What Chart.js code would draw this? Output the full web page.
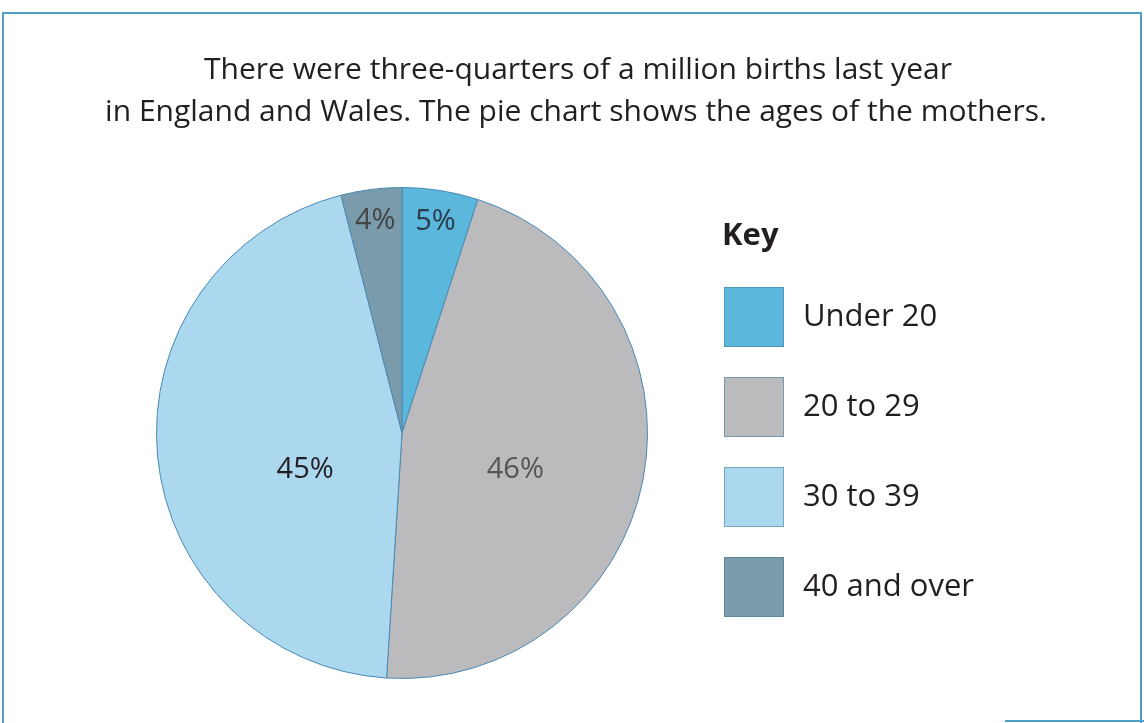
<!DOCTYPE html>
<html>
<head>
<meta charset="utf-8">
<script src="https://cdn.jsdelivr.net/npm/chart.js@4"></script>
<style>
html,body{margin:0;padding:0;background:#fff;}
#wrap{position:relative;width:1144px;height:723px;}
</style>
</head>
<body>
<div id="wrap"><canvas id="c" width="1144" height="723"></canvas></div>
<script>
const categories = ['Under 20', '20 to 29', '30 to 39', '40 and over'];
const percentages = [5, 46, 45, 4];
const sliceLabels = ['5%', '46%', '45%', '4%'];
const sliceColors = ['#5cb7dc', '#bbbbbd', '#acd8ef', '#7a9bab'];
const titleLines = ['There were three-quarters of a million births last year',
                    'in England and Wales. The pie chart shows the ages of the mothers.'];
const keyTitle = 'Key';

const FONT = '"Open Sans", "Noto Sans", sans-serif';

const decor = {
  id: 'decor',
  beforeDraw(chart) {
    const ctx = chart.ctx;
    ctx.save();
    ctx.fillStyle = '#fff';
    ctx.fillRect(0, 0, chart.width, chart.height);
    ctx.strokeStyle = '#4f9fc6';
    ctx.lineWidth = 2;
    ctx.beginPath();
    ctx.moveTo(3, 723); ctx.lineTo(3, 13); ctx.lineTo(1141, 13); ctx.lineTo(1141, 723);
    ctx.stroke();
    ctx.beginPath();
    ctx.moveTo(1005, 721); ctx.lineTo(1144, 721);
    ctx.stroke();
    ctx.restore();
  },
  afterDraw(chart) {
    const ctx = chart.ctx;
    ctx.save();
    // title
    ctx.fillStyle = '#231f20';
    ctx.font = '30px ' + FONT;
    ctx.textAlign = 'center';
    ctx.textBaseline = 'middle';
    ctx.fillText(titleLines[0], 578, 70);
    ctx.fillText(titleLines[1], 576, 112);
    // slice labels
    const meta = chart.getDatasetMeta(0);
    ctx.font = '29px ' + FONT;
    meta.data.forEach((arc, i) => {
      const mid = (arc.startAngle + arc.endAngle) / 2;
      const small = percentages[i] < 10;
      const r = small ? arc.outerRadius * 0.87 : arc.outerRadius * 0.47;
      let x = arc.x + Math.cos(mid) * r;
      let y = arc.y + Math.sin(mid) * r;
      if (!small) { y += 15; if (Math.cos(mid) < 0) { x += 18; y += 11; } }
      ctx.fillStyle = i === 1 ? '#555' : (i === 3 ? '#444' : '#2a3a48');
      if (i === 2) ctx.fillStyle = '#231f20';
      ctx.fillText(sliceLabels[i], x, y);
    });
    // key
    ctx.textAlign = 'left';
    ctx.fillStyle = '#231f20';
    ctx.font = 'bold 31px ' + FONT;
    ctx.fillText(keyTitle, 722, 236);
    ctx.font = '31px ' + FONT;
    categories.forEach((c, i) => {
      const y0 = 287 + i * 90;
      ctx.fillStyle = sliceColors[i];
      ctx.fillRect(724, y0, 60, 60);
      ctx.strokeStyle = 'rgba(60,120,150,0.5)';
      ctx.lineWidth = 1;
      ctx.strokeRect(724.5, y0 + 0.5, 59, 59);
      ctx.fillStyle = '#231f20';
      ctx.fillText(c, 803, y0 + 30);
    });
    ctx.restore();
  }
};

new Chart(document.getElementById('c'), {
  type: 'pie',
  data: {
    labels: categories,
    datasets: [{
      data: percentages,
      backgroundColor: sliceColors,
      borderColor: '#4a8ab5',
      borderWidth: 1
    }]
  },
  options: {
    responsive: false,
    animation: false,
    layout: { padding: { left: 156, right: 496, top: 187, bottom: 44 } },
    plugins: { legend: { display: false }, tooltip: { enabled: false }, title: { display: false } }
  },
  plugins: [decor]
});
</script>
</body>
</html>
